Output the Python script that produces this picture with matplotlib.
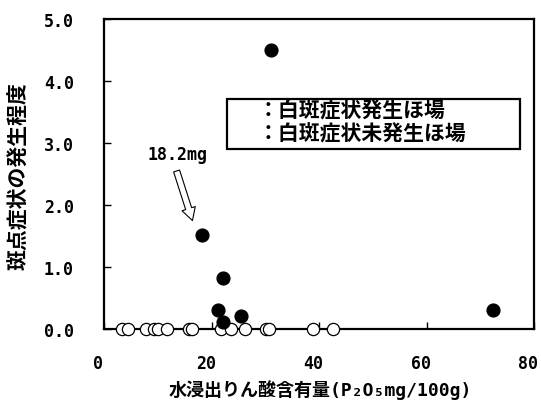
import matplotlib
matplotlib.use("Agg")
import matplotlib.pyplot as plt
import matplotlib.transforms as mtransforms
from matplotlib.patches import Rectangle

# fields where white spot symptoms appeared (filled)
occ_x = [31.1, 18.2, 22.1, 21.2, 22.1, 25.5, 72.3]
occ_y = [4.5, 1.52, 0.82, 0.31, 0.12, 0.21, 0.31]

# fields without symptoms (open), all at 0.0
none_x = [3.2, 4.4, 7.7, 9.3, 10.0, 11.6, 15.7, 16.3, 21.7, 23.5, 26.2, 30.1, 30.7, 38.9, 42.6]
none_y = [0.0] * len(none_x)

x_ticks = [0, 20, 40, 60, 80]
y_ticks = [0.0, 1.0, 2.0, 3.0, 4.0, 5.0]

mono = ["DejaVu Sans Mono", "Noto Sans CJK JP"]
jp = ["Noto Sans CJK JP", "DejaVu Sans"]

fig = plt.figure(figsize=(5.41, 4.02), dpi=100)
ax = fig.add_axes([0.1928, 0.179, 0.7948, 0.771])

ax.plot(none_x, none_y, "o", ms=8.8, mfc="white", mec="black", mew=0.9,
        clip_on=False, zorder=5)
ax.plot(occ_x, occ_y, "o", ms=9.2, color="black", clip_on=False, zorder=6)

ax.set_xlim(0, 80)
ax.set_ylim(0, 5)
ax.set_xticks(x_ticks)
ax.set_yticks(y_ticks)
ax.set_xticklabels([str(t) for t in x_ticks])
ax.set_yticklabels([f"{t:.1f}" for t in y_ticks])
ax.tick_params(direction="in", length=5, width=1)
ax.tick_params(axis="x", pad=18)
ax.tick_params(axis="y", pad=22)
shift = mtransforms.ScaledTranslation(-0.06, 0, fig.dpi_scale_trans)
for lab in ax.get_xticklabels():
    lab.set_transform(lab.get_transform() + shift)
for lab in ax.get_xticklabels() + ax.get_yticklabels():
    lab.set_family(mono)
    lab.set_fontweight("bold")
    lab.set_fontsize(12)
for s in ax.spines.values():
    s.set_linewidth(1.6)

# legend box (drawn without markers, as in the original)
ax.add_patch(Rectangle((22.8, 2.90), 54.6, 0.81, fill=False, ec="black", lw=1.6,
                       zorder=4))
ax.text(28.6, 3.54, "：白斑症状発生ほ場", family=jp, fontweight="bold", fontsize=15,
        ha="left", va="center")
ax.text(28.6, 3.17, "：白斑症状未発生ほ場", family=jp, fontweight="bold", fontsize=15,
        ha="left", va="center")

# hollow arrow pointing at the 18.2mg point
ax.annotate("", xy=(16.4, 1.75), xytext=(13.45, 2.55),
            arrowprops=dict(arrowstyle="simple,head_length=0.9,head_width=1.0,tail_width=0.45",
                            fc="white", ec="black", lw=0.8, shrinkA=0, shrinkB=0,
                            mutation_scale=10))
ax.text(13.6, 2.82, "18.2mg", family=mono, fontweight="bold", fontsize=12,
        ha="center", va="center")

fig.text(0.593, 0.030, "水浸出りん酸含有量(P₂O₅mg/100g)", family=mono,
         fontweight="bold", fontsize=13, ha="center", va="center")
fig.text(0.035, 0.562, "斑点症状の発生程度", family=jp, fontweight="bold",
         fontsize=15, rotation=90, ha="center", va="center")

fig.savefig("out.png", dpi=100)
